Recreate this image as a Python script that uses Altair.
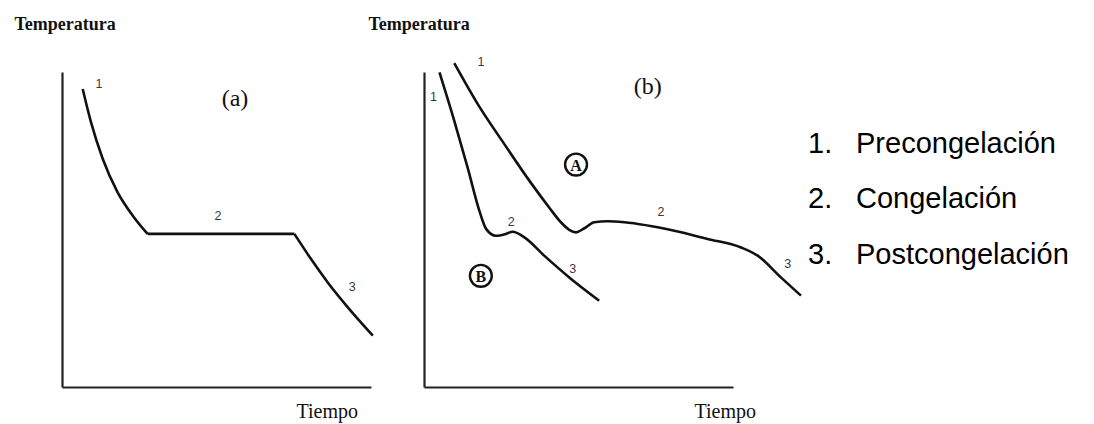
import altair as alt
import pandas as pd

# ---------------- data (tiempo 0-100 = eje X, temperatura 0-100 = eje Y) ----------------
# Panel (a): tramos 1 (precongelación), 2 (meseta), 3 (postcongelación)
a_tiempo = [6.7, 9.4, 13.2, 18.0, 22.9, 27.7, 27.7, 75.2, 75.2, 80.6, 86.0, 92.5, 100.6]
a_temp = [94.6, 84.0, 72.4, 61.8, 54.4, 48.6, 48.6, 48.6, 48.6, 40.6, 33.2, 25.3, 16.3]
a_tramo = [1, 1, 1, 1, 1, 1, 2, 2, 3, 3, 3, 3, 3]

# Panel (b): curva A (lenta) y curva B (rápida)
A_tiempo = [9.8, 17.4, 26.0, 34.6, 40.5, 44.3, 47.0, 49.2, 51.9, 55.1, 59.4, 64.8,
            81.0, 91.8, 102.6, 108.0, 115.5, 122.0]
A_temp = [102.8, 89.8, 77.1, 64.8, 57.0, 52.3, 49.9, 49.1, 50.4, 52.3, 52.6, 52.3,
          49.6, 47.0, 44.3, 41.7, 34.8, 29.0]
B_tiempo = [5.0, 9.8, 14.1, 17.9, 20.1, 23.3, 26.5, 28.7, 32.5, 38.9, 47.6, 56.7]
B_temp = [99.9, 84.5, 69.7, 56.0, 50.2, 48.0, 48.6, 49.3, 47.5, 41.7, 34.3, 27.4]

# etiquetas numéricas de las fases
a_lab_text = ["1", "2", "3"]
a_lab_tiempo = [12.0, 50.5, 93.9]
a_lab_temp = [96.2, 54.3, 31.7]

b_lab_text = ["1", "1", "2", "3", "2", "3"]
b_lab_tiempo = [3.1, 18.4, 28.2, 48.1, 76.7, 117.7]
b_lab_temp = [92.0, 103.1, 52.5, 37.5, 55.5, 39.0]

# identificadores de panel
panel_text = ["(a)", "(b)"]
panel_tiempo = [56.0, 72.4]
panel_temp = [91.4, 95.1]

# letras en círculo
circ_text = ["A", "B"]
circ_tiempo = [49.2, 18.4]
circ_temp = [70.6, 35.3]

# leyenda
leg_num = ["1.", "2.", "3."]
leg_fase = ["Precongelación", "Congelación", "Postcongelación"]
leg_orden = [1, 2, 3]

# ---------------- chart ----------------
INK = "#111111"
x_scale = alt.Scale(domain=[0, 100], nice=False, zero=False)
y_scale = alt.Scale(domain=[0, 100], nice=False, zero=False)


def enc_x(title_x):
    return alt.X("tiempo:Q", scale=x_scale,
                 axis=alt.Axis(title="Tiempo", ticks=False, labels=False, grid=False,
                               domainColor="#222222", domainWidth=2.2,
                               titleX=title_x, titleY=30, titleAngle=0,
                               titleAlign="left", titleBaseline="alphabetic",
                               titleFont="Liberation Serif", titleFontSize=20,
                               titleFontWeight="normal", titleColor=INK))


def enc_y(title_x):
    return alt.Y("temp:Q", scale=y_scale,
                 axis=alt.Axis(title="Temperatura", ticks=False, labels=False, grid=False,
                               domainColor="#222222", domainWidth=2.2,
                               titleX=title_x, titleY=-43, titleAngle=0,
                               titleAlign="left", titleBaseline="alphabetic",
                               titleFont="Liberation Serif", titleFontSize=18,
                               titleFontWeight="bold", titleColor=INK))


def panel(curves, labels, ident, circles, tx_x, ty_x):
    X = enc_x(tx_x)
    Y = enc_y(ty_x)
    layers = []
    for df, det in curves:
        enc = dict(x=X, y=Y, order=alt.Order("i:Q"))
        if det:
            enc["detail"] = alt.Detail(det + ":N")
        layers.append(alt.Chart(df).mark_line(color=INK, strokeWidth=2.6,
                                              interpolate="monotone").encode(**enc))
    layers.append(alt.Chart(labels).mark_text(font="Liberation Sans", fontSize=12.5,
                                              color="#3a3a3a").encode(x=X, y=Y, text="lab:N"))
    layers.append(alt.Chart(ident).mark_text(font="Liberation Serif", fontSize=24,
                                             color=INK).encode(x=X, y=Y, text="lab:N"))
    if circles is not None:
        layers.append(alt.Chart(circles).mark_point(shape="circle", filled=False, size=480,
                                                    strokeWidth=2.4, color=INK, opacity=1)
                      .encode(x=X, y=Y))
        layers.append(alt.Chart(circles).mark_text(font="Liberation Serif", fontSize=16,
                                                   fontWeight="bold", color=INK, dy=1)
                      .encode(x=X, y=Y, text="lab:N"))
    return alt.layer(*layers).properties(width=309, height=315)


df_a = pd.DataFrame({"tiempo": a_tiempo, "temp": a_temp, "tramo": a_tramo,
                     "i": list(range(len(a_tiempo)))})
df_A = pd.DataFrame({"tiempo": A_tiempo, "temp": A_temp, "i": list(range(len(A_tiempo)))})
df_B = pd.DataFrame({"tiempo": B_tiempo, "temp": B_temp, "i": list(range(len(B_tiempo)))})

lab_a = pd.DataFrame({"tiempo": a_lab_tiempo, "temp": a_lab_temp, "lab": a_lab_text})
lab_b = pd.DataFrame({"tiempo": b_lab_tiempo, "temp": b_lab_temp, "lab": b_lab_text})
id_a = pd.DataFrame({"tiempo": [panel_tiempo[0]], "temp": [panel_temp[0]], "lab": [panel_text[0]]})
id_b = pd.DataFrame({"tiempo": [panel_tiempo[1]], "temp": [panel_temp[1]], "lab": [panel_text[1]]})
circ = pd.DataFrame({"tiempo": circ_tiempo, "temp": circ_temp, "lab": circ_text})

panel_a = panel([(df_a, "tramo")], lab_a, id_a, None, 234, -48)
panel_b = panel([(df_A, None), (df_B, None)], lab_b, id_b, circ, 270, -56)

leg_df = pd.DataFrame({"num": leg_num, "fase": leg_fase, "orden": leg_orden})
y_leg = alt.Y("orden:Q", scale=alt.Scale(domain=[-0.46, 5.22], reverse=True, nice=False,
                                         zero=False), axis=None)
leg_nums = alt.Chart(leg_df).mark_text(align="left", baseline="alphabetic",
                                       font="Liberation Sans", fontSize=29,
                                       color="black").encode(x=alt.value(22), y=y_leg, text="num:N")
leg_fases = alt.Chart(leg_df).mark_text(align="left", baseline="alphabetic",
                                        font="Liberation Sans", fontSize=29,
                                        color="black").encode(x=alt.value(70), y=y_leg, text="fase:N")
leyenda = alt.layer(leg_nums, leg_fases).properties(width=290, height=315)

chart = (alt.hconcat(panel_a, panel_b, leyenda, spacing=53, bounds="flush")
         .properties(padding={"left": 5, "top": 6, "right": 5, "bottom": 5},
                     background="white")
         .configure_view(stroke="transparent"))

chart.save("out.html", embed_options={"renderer": "svg", "actions": False})
